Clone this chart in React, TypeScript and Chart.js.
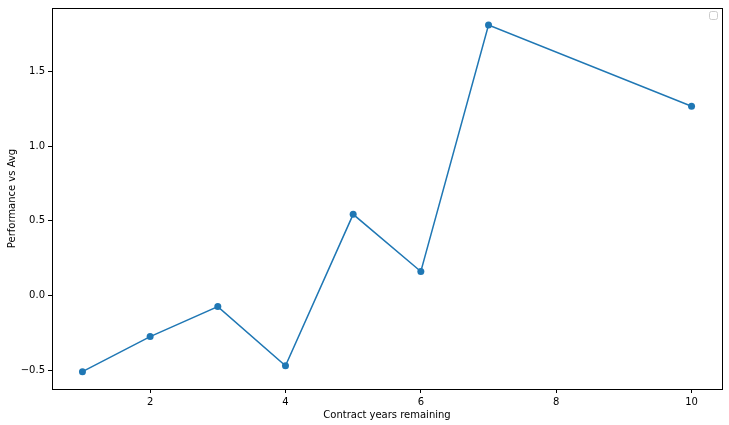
import React, { useEffect, useRef } from "react";
import { Chart, registerables } from "chart.js";

Chart.register(...registerables);

const contractYears = [1, 2, 3, 4, 5, 6, 7, 10];
const performance = [-0.51, -0.275, -0.074, -0.47, 0.544, 0.161, 1.812, 1.268];
const xTicks = [2, 4, 6, 8, 10];
const yTicks = [-0.5, 0, 0.5, 1.0, 1.5];

const FONT = "'DejaVu Sans', sans-serif";

const framePlugin = {
  id: "frame",
  afterDraw(chart: any) {
    const { ctx, chartArea } = chart;
    ctx.save();
    ctx.strokeStyle = "#000";
    ctx.lineWidth = 1;
    ctx.strokeRect(
      Math.round(chartArea.left) + 0.5,
      Math.round(chartArea.top) + 0.5,
      Math.round(chartArea.right - chartArea.left),
      Math.round(chartArea.bottom - chartArea.top)
    );
    // empty legend box
    ctx.strokeStyle = "#cccccc";
    ctx.beginPath();
    ctx.roundRect(709.5, 11.5, 8, 8, 2);
    ctx.stroke();
    ctx.restore();
  },
};

export default function App() {
  const canvasRef = useRef<HTMLCanvasElement>(null);

  useEffect(() => {
    if (!canvasRef.current) return;
    const chart = new Chart(canvasRef.current, {
      type: "line",
      data: {
        datasets: [
          {
            data: contractYears.map((x, i) => ({ x, y: performance[i] })),
            borderColor: "#1f77b4",
            backgroundColor: "#1f77b4",
            borderWidth: 1.5,
            pointRadius: 3.5,
            pointHoverRadius: 3.5,
            pointBorderWidth: 0,
            tension: 0,
          },
        ],
      },
      options: {
        animation: false,
        responsive: false,
        layout: { padding: { top: 8, right: 7, left: 6, bottom: 4 } },
        plugins: { legend: { display: false }, tooltip: { enabled: false } },
        scales: {
          x: {
            type: "linear",
            min: 0.55,
            max: 10.45,
            afterBuildTicks: (axis: any) => {
              axis.ticks = xTicks.map((v) => ({ value: v }));
            },
            afterFit: (axis: any) => {
              axis.height = 32;
              axis.paddingLeft = 0;
              axis.paddingRight = 0;
            },
            grid: {
              display: true,
              drawOnChartArea: false,
              drawTicks: true,
              tickLength: 4,
              color: "#000",
            },
            border: { display: true, color: "#000" },
            ticks: {
              color: "#000",
              font: { family: FONT, size: 10 },
              padding: 3,
              maxRotation: 0,
              callback: (v: any) => String(v),
            },
            title: {
              display: true,
              text: "Contract years remaining",
              color: "#000",
              font: { family: FONT, size: 10 },
              padding: { top: 2, bottom: 0 },
            },
          },
          y: {
            type: "linear",
            min: -0.626,
            max: 1.926,
            afterBuildTicks: (axis: any) => {
              axis.ticks = yTicks.map((v) => ({ value: v }));
            },
            afterFit: (axis: any) => {
              axis.width = 46;
              axis.paddingTop = 0;
              axis.paddingBottom = 0;
            },
            grid: {
              display: true,
              drawOnChartArea: false,
              drawTicks: true,
              tickLength: 4,
              color: "#000",
            },
            border: { display: true, color: "#000" },
            ticks: {
              color: "#000",
              font: { family: FONT, size: 10 },
              padding: 3,
              callback: (v: any) => (v < 0 ? "\u2212" : "") + Math.abs(v).toFixed(1),
            },
            title: {
              display: true,
              text: "Performance vs Avg",
              color: "#000",
              font: { family: FONT, size: 10 },
              padding: { top: 0, bottom: 0 },
            },
          },
        },
      },
      plugins: [framePlugin],
    });
    return () => chart.destroy();
  }, []);

  return (
    <div style={{ position: "fixed", left: 0, top: 0, width: 729, height: 425, background: "#fff" }}>
      <canvas ref={canvasRef} width={729} height={425} />
    </div>
  );
}
